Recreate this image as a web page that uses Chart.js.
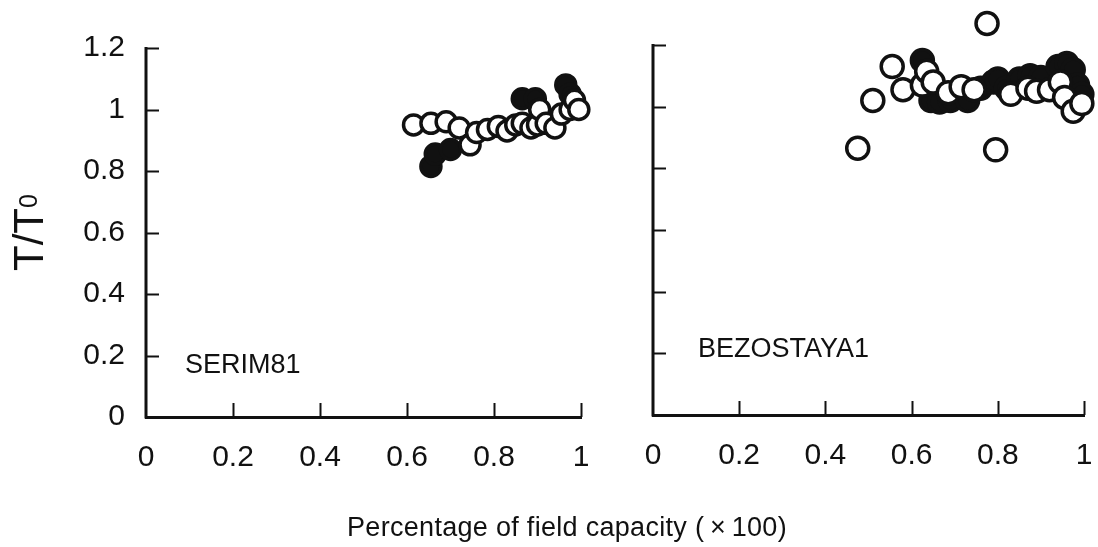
<!DOCTYPE html>
<html>
<head>
<meta charset="utf-8">
<script src="https://cdn.jsdelivr.net/npm/chart.js@4/dist/chart.umd.min.js"></script>
<style>
  html, body { margin: 0; padding: 0; background: #fff; overflow: hidden; }
  body { width: 1098px; height: 547px; position: relative; font-family: "Liberation Sans", Arial, sans-serif; color: #111; }
  .cv { position: absolute; top: 0; }
  .txt { position: absolute; white-space: nowrap; line-height: 1; color: #111; }
</style>
</head>
<body>
<div class="cv" style="left:0;width:620px;height:547px;"><canvas id="c1"></canvas></div>
<div class="cv" style="left:620px;width:520px;height:547px;"><canvas id="c2"></canvas></div>

<div class="txt" style="left:8px;top:271px;font-size:42px;transform-origin:0 0;transform:rotate(-90deg);">T/T<span style="font-size:25px;vertical-align:6px;">0</span></div>
<div class="txt" style="left:185px;top:351px;font-size:27px;">SERIM81</div>
<div class="txt" style="left:698px;top:335px;font-size:27px;">BEZOSTAYA1</div>
<div class="txt" style="left:567px;top:514px;font-size:27px;letter-spacing:0.3px;transform:translateX(-50%);">Percentage of field capacity (&#8201;×&#8201;100)</div>

<script>
// ---- data ----
const xTickLabels = ['0', '0.2', '0.4', '0.6', '0.8', '1'];
const yTickLabels = ['0', '0.2', '0.4', '0.6', '0.8', '1', '1.2'];
const AXIS_TOP = 1.2;

const serimOpenX = [0.615, 0.655, 0.69, 0.72, 0.745, 0.76, 0.785, 0.81, 0.83, 0.85, 0.865, 0.885, 0.90, 0.905, 0.92, 0.94, 0.955, 0.975, 0.985, 0.995];
const serimOpenY = [0.95, 0.955, 0.96, 0.94, 0.885, 0.925, 0.935, 0.945, 0.93, 0.95, 0.955, 0.94, 0.95, 1.00, 0.955, 0.94, 0.985, 1.00, 1.03, 1.00];
const serimFilledX = [0.655, 0.665, 0.70, 0.865, 0.895, 0.965, 0.975];
const serimFilledY = [0.815, 0.855, 0.87, 1.035, 1.035, 1.08, 1.05];

const bezOpenX = [0.475, 0.51, 0.555, 0.58, 0.625, 0.635, 0.65, 0.685, 0.715, 0.745, 0.775, 0.795, 0.83, 0.87, 0.89, 0.92, 0.945, 0.955, 0.975, 0.995];
const bezOpenY = [0.865, 1.02, 1.13, 1.055, 1.07, 1.115, 1.08, 1.045, 1.065, 1.055, 1.27, 0.86, 1.04, 1.06, 1.05, 1.055, 1.08, 1.03, 0.985, 1.01];
const bezFilledX = [0.625, 0.64, 0.645, 0.665, 0.69, 0.71, 0.73, 0.76, 0.79, 0.80, 0.82, 0.85, 0.875, 0.90, 0.94, 0.96, 0.975, 0.985, 0.995];
const bezFilledY = [1.15, 1.09, 1.02, 1.015, 1.02, 1.05, 1.02, 1.06, 1.08, 1.09, 1.06, 1.09, 1.10, 1.095, 1.13, 1.14, 1.12, 1.07, 1.04];

const toPts = (xs, ys) => xs.map((x, i) => ({ x: x, y: ys[i] }));

const INK = '#111';
const FONT = 'Liberation Sans';

// axis lines (y only up to 1.2) and inward tick marks
const axesAndTicks = {
  id: 'axesAndTicks',
  afterDatasetsDraw(chart) {
    const ctx = chart.ctx;
    const xs = chart.scales.x, ys = chart.scales.y;
    const a = chart.chartArea;
    const y0 = ys.getPixelForValue(0), yTop = ys.getPixelForValue(AXIS_TOP);
    ctx.save();
    ctx.strokeStyle = INK;
    ctx.lineCap = 'butt';
    ctx.lineWidth = 3;
    ctx.beginPath(); ctx.moveTo(a.left, yTop - 1); ctx.lineTo(a.left, y0 + 1.5); ctx.stroke();
    ctx.lineWidth = 2;
    ys.ticks.forEach(t => {
      if (t.value === 0) return;
      const py = Math.round(ys.getPixelForValue(t.value)) + 0.5;
      ctx.beginPath(); ctx.moveTo(a.left, py); ctx.lineTo(a.left + 13, py); ctx.stroke();
    });
    xs.ticks.forEach(t => {
      if (t.value === 0) return;
      const px = Math.round(xs.getPixelForValue(t.value)) + 0.5;
      ctx.beginPath(); ctx.moveTo(px, a.bottom); ctx.lineTo(px, a.bottom - 14); ctx.stroke();
    });
    ctx.restore();
  }
};

function makeChart(id, openPts, filledPts, opts) {
  return new Chart(document.getElementById(id), {
    type: 'scatter',
    data: {
      datasets: [
        { data: filledPts, backgroundColor: INK, borderColor: INK, borderWidth: 3.5, pointRadius: opts.r, order: 2, clip: false },
        { data: openPts, backgroundColor: '#fff', borderColor: INK, borderWidth: 3.5, pointRadius: opts.r, order: 1, clip: false }
      ]
    },
    options: {
      responsive: true,
      maintainAspectRatio: false,
      animation: false,
      events: [],
      layout: { padding: { top: opts.top, right: opts.right, left: 0, bottom: 0 } },
      plugins: { legend: { display: false }, tooltip: { enabled: false } },
      scales: {
        x: {
          type: 'linear', min: 0, max: 1,
          grid: { display: false, drawTicks: false },
          border: { display: true, color: INK, width: 3 },
          ticks: { stepSize: 0.2, padding: 23, color: INK, font: { family: FONT, size: 30 },
                   callback: (v, i) => xTickLabels[i] },
          afterFit: s => { s.height = opts.xh; }
        },
        y: {
          type: 'linear', min: 0, max: opts.yMax,
          grid: { display: false, drawTicks: false },
          border: { display: false },
          ticks: { display: opts.yLabels, includeBounds: false, stepSize: 0.2, padding: 21, color: INK,
                   font: { family: FONT, size: 30 },
                   callback: (v, i) => yTickLabels[i] },
          afterBuildTicks: s => { s.ticks = s.ticks.filter(t => t.value <= AXIS_TOP + 1e-9); },
          afterFit: s => { s.width = opts.yw; }
        }
      }
    },
    plugins: [axesAndTicks]
  });
}

makeChart('c1', toPts(serimOpenX, serimOpenY), toPts(serimFilledX, serimFilledY),
  { r: 10, top: 48, right: 39, xh: 130, yw: 146, yLabels: true, yMax: 1.2 });
makeChart('c2', toPts(bezOpenX, bezOpenY), toPts(bezFilledX, bezFilledY),
  { r: 11, top: 18, right: 56, xh: 132, yw: 33, yLabels: false, yMax: 1.2876 });
</script>
</body>
</html>
